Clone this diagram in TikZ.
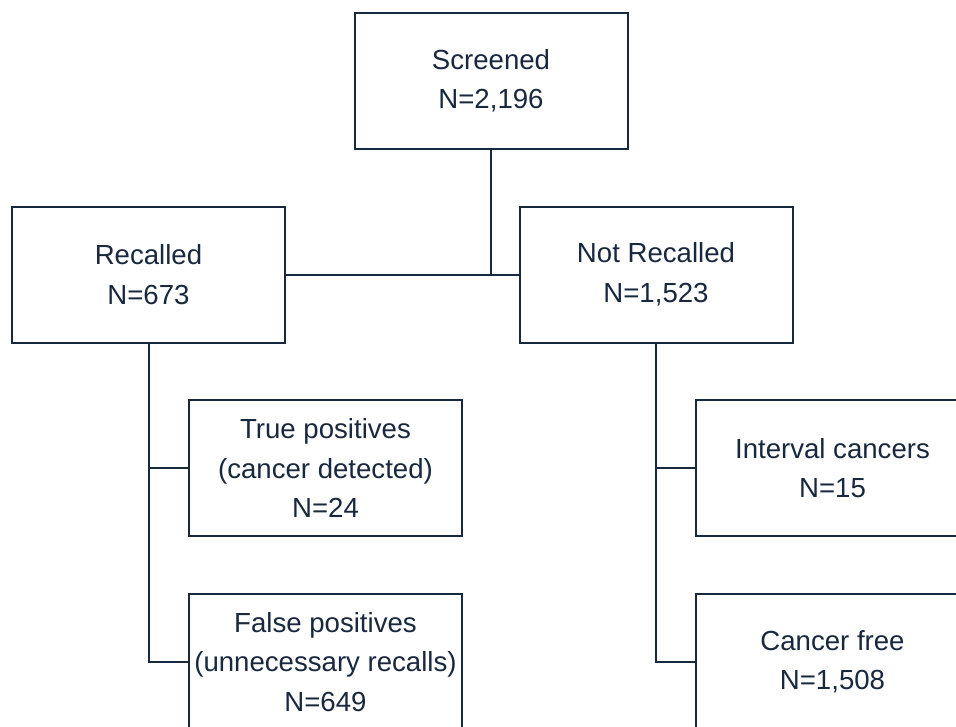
\documentclass[tikz,border=0pt]{standalone}
\usepackage{fontspec}
\setmainfont{Liberation Sans}
\definecolor{navy}{RGB}{24,40,62}
\begin{document}
\begin{tikzpicture}[x=1pt,y=1pt,
  box/.style={draw=navy,line width=2pt,rectangle,minimum width=273pt,minimum height=136pt,inner sep=0pt,align=center,text=navy,font=\fontsize{27.6}{39.5}\selectfont},
  conn/.style={draw=navy,line width=2pt}]
\useasboundingbox (0,0) rectangle (956,-726);
\clip (0,0) rectangle (956,-726);
\fill[white] (0,0) rectangle (956,-726);
\node[box] (scr) at (491,-81) {Screened\\N=2,196};
\node[box] (rec) at (148.5,-274.5) {Recalled\\N=673};
\node[box] (nrec) at (656,-274.5) {Not Recalled\\N=1,523};
\node[box] (tp) at (325.5,-468) {True positives\\(cancer detected)\\N=24};
\node[box] (fp) at (325.5,-662) {False positives\\(unnecessary recalls)\\N=649};
\node[box] (ic) at (832.5,-468) {Interval cancers\\N=15};
\node[box] (cf) at (832.5,-662) {Cancer free\\N=1,508};
\draw[conn] (rec.east) -- (nrec.west);
\draw[conn] (scr.south) -- (scr.south |- rec.east);
\draw[conn] (rec.south) |- (fp.west);
\draw[conn] (rec.south |- tp.west) -- (tp.west);
\draw[conn] (nrec.south) |- (cf.west);
\draw[conn] (nrec.south |- ic.west) -- (ic.west);
\end{tikzpicture}
\end{document}
